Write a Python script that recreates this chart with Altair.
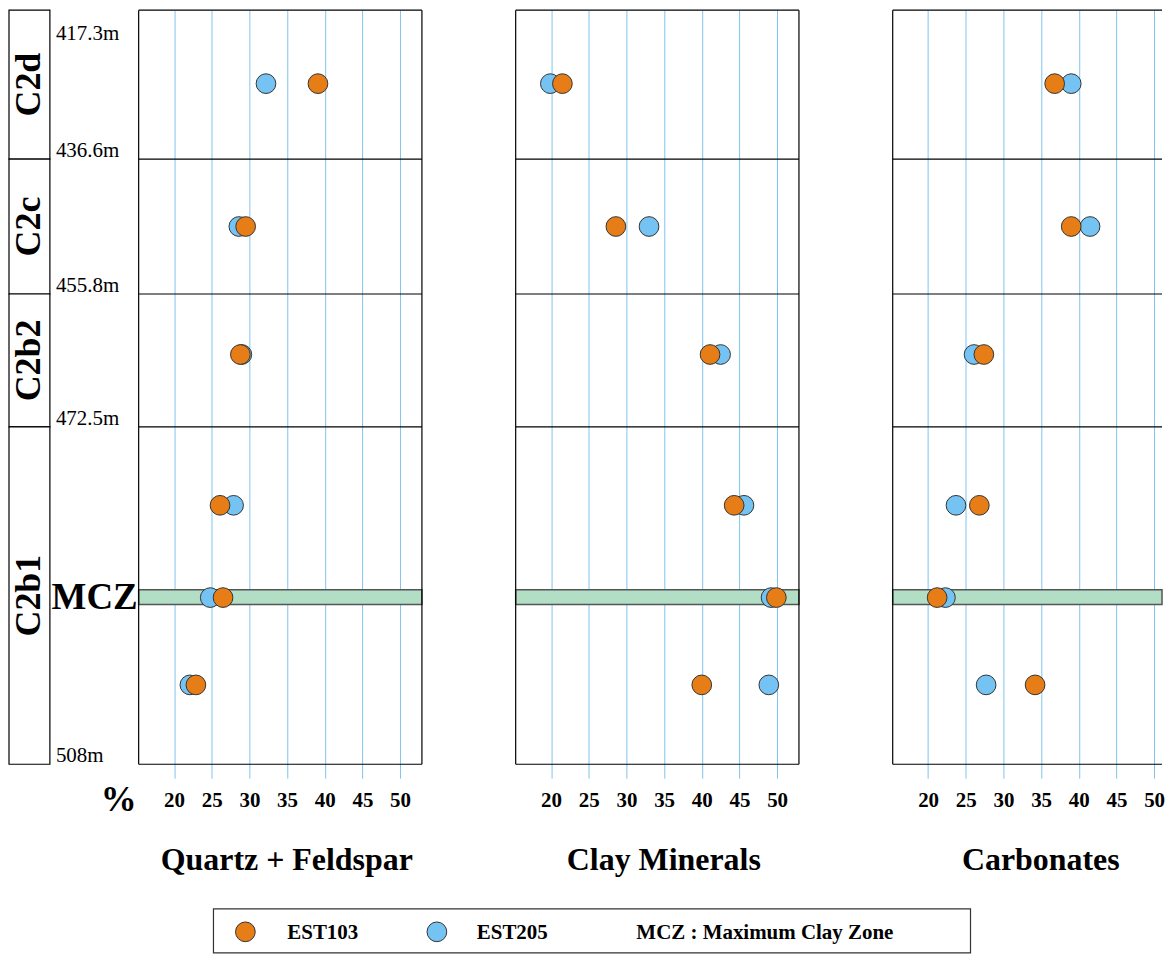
import altair as alt
import pandas as pd

FONT = "Liberation Serif"

# ---------------- data ----------------
zones = ["C2d", "C2c", "C2b2", "C2b1"]
zone_top = [0, 150, 286, 420]
zone_bottom = [150, 286, 420, 760]
depth_labels = ["417.3m", "436.6m", "455.8m", "472.5m", "508m"]
depth_pos = [0, 150, 286, 420, 760]

levels = ["C2d", "C2c", "C2b2", "C2b1 upper", "MCZ", "C2b1 lower"]
level_pos = [74, 218, 347, 499, 592, 680]
mcz_top = 584
mcz_bottom = 599

samples = ["EST205", "EST103"]
colors = ["#75C3F2", "#E67D17"]

quartz_est103 = [39.1, 29.5, 28.8, 26.1, 26.5, 22.9]
quartz_est205 = [32.2, 28.6, 29.0, 27.9, 24.8, 22.1]
clay_est103 = [21.5, 28.6, 41.1, 44.3, 49.9, 40.0]
clay_est205 = [19.9, 33.0, 42.5, 45.6, 49.2, 48.9]
carb_est103 = [36.8, 39.0, 27.4, 26.8, 21.2, 34.2]
carb_est205 = [39.0, 41.5, 26.1, 23.7, 22.3, 27.7]
tick_values = [20, 25, 30, 35, 40, 45, 50]

titles = ["Quartz + Feldspar", "Clay Minerals", "Carbonates"]
legend_note = "MCZ : Maximum Clay Zone"

# ---------------- styling ----------------
H = 756
GRID = "#80C4EE"
PT_SIZE = 390
ysc = alt.Scale(domain=[0, 760], reverse=True, nice=False, zero=False, padding=0)
color_scale = alt.Scale(domain=samples, range=colors)
one = pd.DataFrame({"k": [0]})


def panel(title, v103, v205, width, xmax, right_border=True):
    rows = []
    for lvl, pos, v in zip(levels, level_pos, v205):
        rows.append({"level": lvl, "pos": pos, "sample": "EST205", "value": v})
    for lvl, pos, v in zip(levels, level_pos, v103):
        rows.append({"level": lvl, "pos": pos, "sample": "EST103", "value": v})
    df = pd.DataFrame(rows)
    xsc = alt.Scale(domain=[15.3, xmax], nice=False, zero=False, padding=0)
    axis = alt.Axis(
        values=tick_values, grid=True, gridColor=GRID, gridWidth=1,
        ticks=True, tickColor=GRID, tickSize=14, tickWidth=1, domain=False,
        labelFont=FONT, labelFontSize=21, labelFontWeight="bold", labelColor="black",
        labelPadding=11, labelFlush=False, labelOverlap=False,
        title=title, titleFont=FONT, titleFontSize=32, titleFontWeight="bold",
        titleColor="black", titleX=148, titleY=106, titleAlign="center",
        titleBaseline="alphabetic",
    )
    band = alt.Chart(pd.DataFrame({"top": [mcz_top], "bottom": [mcz_bottom]})).mark_rect(
        fill="#B3DEC6", stroke="#555555", strokeWidth=1.5
    ).encode(
        x=alt.value(0), x2=alt.value(width),
        y=alt.Y("top:Q", scale=ysc, axis=None), y2="bottom:Q",
    )
    hl = alt.Chart(pd.DataFrame({"pos": depth_pos})).mark_rule(
        color="black", strokeWidth=1.2
    ).encode(x=alt.value(0), x2=alt.value(width), y=alt.Y("pos:Q", scale=ysc, axis=None))
    lb = alt.Chart(one).mark_rule(color="black", strokeWidth=1.2).encode(
        x=alt.value(0), y=alt.value(0), y2=alt.value(H)
    )
    pts = alt.Chart(df).mark_point(
        filled=True, shape="circle", size=PT_SIZE, stroke="#333333",
        strokeWidth=1, opacity=1,
    ).encode(
        x=alt.X("value:Q", scale=xsc, axis=axis),
        y=alt.Y("pos:Q", scale=ysc, axis=None),
        color=alt.Color("sample:N", scale=color_scale, legend=None),
    )
    extra = []
    if right_border:
        extra.append(
            alt.Chart(one).mark_rule(color="black", strokeWidth=1.2).encode(
                x=alt.value(width), y=alt.value(0), y2=alt.value(H)
            )
        )
    ch = alt.layer(band, hl, lb, *extra, pts)
    return ch.properties(width=width, height=H)


# ---------------- left column (strat log + legend) ----------------
zdf = pd.DataFrame({"zone": zones, "top": zone_top, "bottom": zone_bottom})
box = alt.Chart(zdf).mark_rect(fill="white", stroke="black", strokeWidth=1.2).encode(
    x=alt.value(0), x2=alt.value(41),
    y=alt.Y("top:Q", scale=ysc, axis=None), y2="bottom:Q",
)
zlab = alt.Chart(zdf).transform_calculate(mid="(datum.top + datum.bottom) / 2").mark_text(
    angle=270, font=FONT, fontSize=36, fontWeight="bold", align="center",
    baseline="middle", color="black",
).encode(x=alt.value(20), y=alt.Y("mid:Q", scale=ysc, axis=None), text="zone:N")

ddf = pd.DataFrame({"label": depth_labels, "pos": depth_pos, "idx": list(range(len(depth_labels)))})
dtop = alt.Chart(ddf).transform_filter("datum.idx == 0").mark_text(
    font=FONT, fontSize=21, align="left", baseline="alphabetic", dy=30, color="black"
).encode(x=alt.value(47), y=alt.Y("pos:Q", scale=ysc, axis=None), text="label:N")
drest = alt.Chart(ddf).transform_filter("datum.idx > 0").mark_text(
    font=FONT, fontSize=21, align="left", baseline="alphabetic", dy=-2, color="black"
).encode(x=alt.value(47), y=alt.Y("pos:Q", scale=ysc, axis=None), text="label:N")

mcz_lab = alt.Chart(pd.DataFrame({"t": ["MCZ"], "top": [mcz_top], "bottom": [mcz_bottom]})).transform_calculate(
    mid="(datum.top + datum.bottom) / 2"
).mark_text(
    font=FONT, fontSize=37, fontWeight="bold", align="right", baseline="alphabetic",
    dy=12, color="black",
).encode(x=alt.value(129), y=alt.Y("mid:Q", scale=ysc, axis=None), text="t:N")

pct = alt.Chart(pd.DataFrame({"t": ["%"]})).mark_text(
    font=FONT, fontSize=36, fontWeight="bold", align="center", baseline="middle", color="black"
).encode(x=alt.value(110), y=alt.value(792), text="t:N")

# legend box (kept inside the page height)
LG_TOP, LG_BOT = 901, 945
lg_box = alt.Chart(one).mark_rect(fill="white", stroke="#333333", strokeWidth=1.2).encode(
    x=alt.value(205), x2=alt.value(964), y=alt.value(LG_TOP), y2=alt.value(LG_BOT)
)
ldf = pd.DataFrame({"sample": ["EST103", "EST205"]})
lg_items = []
for s, cx, tx in [("EST103", 237, 279), ("EST205", 429, 469)]:
    lg_items.append(
        alt.Chart(ldf).transform_filter(alt.datum.sample == s).mark_point(
            filled=True, shape="circle", size=PT_SIZE, stroke="#333333", strokeWidth=1, opacity=1
        ).encode(x=alt.value(cx), y=alt.value(LG_TOP + 23),
                 color=alt.Color("sample:N", scale=color_scale, legend=None))
    )
    lg_items.append(
        alt.Chart(ldf).transform_filter(alt.datum.sample == s).mark_text(
            font=FONT, fontSize=21, fontWeight="bold", align="left", baseline="alphabetic", color="black"
        ).encode(x=alt.value(tx), y=alt.value(LG_TOP + 30), text="sample:N")
    )
lg_note = alt.Chart(pd.DataFrame({"t": [legend_note]})).mark_text(
    font=FONT, fontSize=21, fontWeight="bold", align="left", baseline="alphabetic", color="black"
).encode(x=alt.value(629), y=alt.value(LG_TOP + 30), text="t:N")

left = alt.layer(box, zlab, dtop, drest, mcz_lab, pct, lg_box, *lg_items, lg_note).properties(
    width=36, height=H
)

p1 = panel(titles[0], quartz_est103, quartz_est205, 284, 52.9)
p2 = panel(titles[1], clay_est103, clay_est205, 284, 52.9)
p3 = panel(titles[2], carb_est103, carb_est205, 270, 51.05, right_border=False)

chart = alt.hconcat(left, p1, p2, p3, spacing=94, bounds="flush").resolve_scale(
    x="independent"
).properties(padding=0).configure_view(stroke=None)

chart.save("out.html", embed_options={"renderer": "svg", "actions": False})
